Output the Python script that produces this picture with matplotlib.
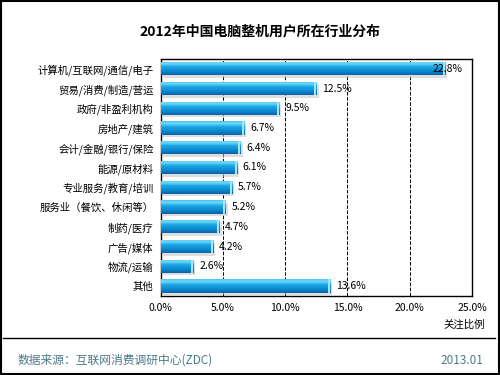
import numpy as np
import matplotlib
matplotlib.use('Agg')
import matplotlib.pyplot as plt
from matplotlib.colors import LinearSegmentedColormap
from matplotlib.patches import Rectangle

plt.rcParams['font.family'] = ['Noto Sans CJK SC', 'DejaVu Sans']

# 数据
categories = ['计算机/互联网/通信/电子', '贸易/消费/制造/营运', '政府/非盈利机构',
              '房地产/建筑', '会计/金融/银行/保险', '能源/原材料',
              '专业服务/教育/培训', '服务业（餐饮、休闲等）', '制药/医疗',
              '广告/媒体', '物流/运输', '其他']
values = [22.8, 12.5, 9.5, 6.7, 6.4, 6.1, 5.7, 5.2, 4.7, 4.2, 2.6, 13.6]
xticks = [0, 5, 10, 15, 20, 25]

fig = plt.figure(figsize=(5, 3.75), dpi=100)
ax = fig.add_axes([0.321, 0.211, 0.623, 0.632])

y = np.arange(len(categories))
bars = ax.barh(y, values, height=0.68, color='#1a9ad6', edgecolor='none', zorder=3)

# 渐变填充（上亮下暗）+ 阴影
cmap = LinearSegmentedColormap.from_list(
    'b', [(0, '#4cc6f2'), (0.18, '#6fd8f8'), (0.4, '#1aa6e6'), (0.75, '#0c86cc'), (1, '#0a62a6')])
grad = np.linspace(0, 1, 64).reshape(-1, 1)
for b in bars:
    x0, y0, w, h = b.get_x(), b.get_y(), b.get_width(), b.get_height()
    ax.add_patch(Rectangle((x0 + 0.2, y0 + 0.12), w, h, color='#c4c4c4', alpha=0.55,
                           zorder=2, lw=0))
    im = ax.imshow(grad, cmap=cmap, aspect='auto', extent=(x0, x0 + w, y0 + h, y0),
                   zorder=3, interpolation='bilinear')
    im.set_clip_path(b)
    ax.add_patch(Rectangle((x0 + w - 0.15, y0), 0.15, h, color='#9fe6fb', zorder=4, lw=0))

for i, v in enumerate(values):
    if v == max(values):
        ax.text(v - 1.0, i, f'{v:.1f}%', va='center', ha='left', fontsize=7.5, zorder=5)
    else:
        ax.text(v + 0.5, i, f'{v:.1f}%', va='center', ha='left', fontsize=7.5, zorder=5)

ax.set_xlim(0, 25)
ax.set_ylim(len(categories) - 0.5, -0.5)
ax.set_yticks(y)
ax.set_yticklabels(categories, fontsize=7.5)
ax.set_xticks(xticks)
ax.set_xticklabels([f'{t:.1f}%' for t in xticks], fontsize=7.5)
ax.tick_params(length=0, pad=5)
ax.grid(axis='x', color='black', linestyle='--', linewidth=0.7, zorder=1)
for s in ax.spines.values():
    s.set_linewidth(1.0)

fig.text(0.52, 0.915, '2012年中国电脑整机用户所在行业分布', ha='center', va='center',
         fontsize=10, fontweight='bold')
fig.text(0.97, 0.135, '关注比例', ha='right', va='center', fontsize=7.5)

# 分隔线与来源
fig.add_artist(plt.Line2D([0.006, 0.99], [0.098, 0.098], color='black', lw=1))
fig.text(0.035, 0.04, '数据来源：互联网消费调研中心(ZDC)', ha='left', va='center',
         fontsize=8.5, color='#4a7a8c')
fig.text(0.966, 0.04, '2013.01', ha='right', va='center', fontsize=8.5, color='#4a7a8c')

fig.add_artist(Rectangle((0.002, 0.003), 0.995, 0.994, transform=fig.transFigure,
                         fill=False, edgecolor='black', lw=1.5))

plt.savefig('out.png', dpi=100)
